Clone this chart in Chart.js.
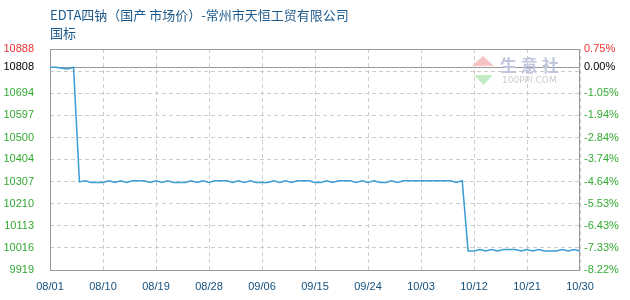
<!DOCTYPE html>
<html>
<head>
<meta charset="utf-8">
<script src="https://cdn.jsdelivr.net/npm/chart.js@4.4.0/dist/chart.umd.min.js"></script>
<style>
  html, body { margin: 0; padding: 0; background: #fff; }
</style>
</head>
<body>
<canvas id="priceChart" width="630" height="300"></canvas>
<script>
const chartTitle = ['EDTA四钠（国产 市场价）-常州市天恒工贸有限公司', '国标'];

const dates = [
    '08/01', '08/02', '08/03', '08/04', '08/05', '08/06', '08/07', '08/08', '08/09', '08/10',
    '08/11', '08/12', '08/13', '08/14', '08/15', '08/16', '08/17', '08/18', '08/19', '08/20',
    '08/21', '08/22', '08/23', '08/24', '08/25', '08/26', '08/27', '08/28', '08/29', '08/30', '08/31',
    '09/01', '09/02', '09/03', '09/04', '09/05', '09/06', '09/07', '09/08', '09/09', '09/10',
    '09/11', '09/12', '09/13', '09/14', '09/15', '09/16', '09/17', '09/18', '09/19', '09/20',
    '09/21', '09/22', '09/23', '09/24', '09/25', '09/26', '09/27', '09/28', '09/29', '09/30',
    '10/01', '10/02', '10/03', '10/04', '10/05', '10/06', '10/07', '10/08', '10/09', '10/10',
    '10/11', '10/12', '10/13', '10/14', '10/15', '10/16', '10/17', '10/18', '10/19', '10/20',
    '10/21', '10/22', '10/23', '10/24', '10/25', '10/26', '10/27', '10/28', '10/29', '10/30'
];

const prices = [
    10808, 10808, 10804, 10800, 10808,
    10305, 10310, 10303, 10303, 10303,
    10310, 10303, 10310, 10303, 10310,
    10310, 10310, 10303, 10310, 10303,
    10310, 10303, 10303, 10303, 10310,
    10303, 10310, 10303, 10310, 10310,
    10310, 10303, 10310, 10303, 10310,
    10303, 10303, 10303, 10310, 10303,
    10310, 10303, 10310, 10310, 10310,
    10303, 10303, 10310, 10303, 10310,
    10310, 10310, 10303, 10310, 10303,
    10310, 10303, 10303, 10310, 10303,
    10310, 10310, 10310, 10310, 10310,
    10310, 10310, 10310, 10310, 10303,
    10310, 10002, 10002, 10009, 10002,
    10009, 10002, 10009, 10009, 10009,
    10002, 10009, 10002, 10009, 10002,
    10002, 10002, 10009, 10002, 10009,
    10002
];

const basePrice = 10808; // reference level, 0.00%
const yMin = 9919;
const yMax = 10888;
const leftTicks = [9919, 10016, 10113, 10210, 10307, 10404, 10500, 10597, 10694, 10791, 10808, 10888];
const leftTickLabels = ['9919', '10016', '10113', '10210', '10307', '10404', '10500', '10597', '10694', '', '10808', '10888'];
const rightTickLabels = ['-8.22%', '-7.33%', '-6.43%', '-5.53%', '-4.64%', '-3.74%', '-2.84%', '-1.94%', '-1.05%', '', '0.00%', '0.75%'];

const tickFont = { family: 'Liberation Sans', size: 11 };

function tickColor(value) {
    if (value === yMax) return '#ee3333';
    if (value === basePrice) return '#000000';
    return '#33aa33';
}

function setTicks(scale) {
    scale.ticks = leftTicks.map(v => ({ value: v }));
}

const titlePlugin = {
    id: 'titleText',
    afterDraw(chart) {
        const { ctx } = chart;
        ctx.save();
        ctx.font = '13px "Noto Sans CJK SC"';
        ctx.fillStyle = '#1c5a8c';
        ctx.textAlign = 'left';
        ctx.textBaseline = 'middle';
        ctx.fillText(chartTitle[0], 50, 15);
        ctx.fillText(chartTitle[1], 50, 33);
        ctx.restore();
    }
};

// grey box round the plot
const framePlugin = {
    id: 'frame',
    beforeDatasetsDraw(chart) {
        const { ctx, chartArea: a } = chart;
        ctx.save();
        ctx.strokeStyle = '#999999';
        ctx.lineWidth = 1;
        ctx.strokeRect(Math.round(a.left) + 0.5, Math.round(a.top) + 0.5,
            Math.round(a.right - a.left) - 1, Math.round(a.bottom - a.top));
        ctx.restore();
    }
};

const watermarkPlugin = {
    id: 'watermark',
    beforeDatasetsDraw(chart) {
        const { ctx } = chart;
        ctx.save();
        ctx.fillStyle = '#f6c2c2';
        ctx.beginPath();
        ctx.moveTo(483, 56);
        ctx.lineTo(494, 66);
        ctx.lineTo(472, 66);
        ctx.closePath();
        ctx.fill();
        ctx.fillStyle = '#c4ecc4';
        ctx.beginPath();
        ctx.moveTo(474, 75);
        ctx.lineTo(493, 75);
        ctx.lineTo(483.5, 85);
        ctx.closePath();
        ctx.fill();
        ctx.fillStyle = '#c0c6dc';
        ctx.font = 'bold 17px "Noto Sans CJK SC"';
        ctx.textBaseline = 'middle';
        ctx.fillText('生 意 社', 500, 66);
        ctx.fillStyle = '#cccccc';
        ctx.font = '9px "DejaVu Sans"';
        ctx.fillText('100PPI.COM', 502, 81);
        ctx.restore();
    }
};

const ctx = document.getElementById('priceChart').getContext('2d');
new Chart(ctx, {
    type: 'line',
    data: {
        labels: dates,
        datasets: [{
            label: 'EDTA四钠',
            data: prices,
            borderColor: '#3d9bd6',
            borderWidth: 1.5,
            pointRadius: 0,
            tension: 0,
            fill: false
        }]
    },
    options: {
        responsive: false,
        animation: false,
        layout: {
            autoPadding: false,
            padding: { left: 3, right: 10, top: 49, bottom: 0 }
        },
        plugins: {
            legend: { display: false },
            tooltip: { enabled: false }
        },
        scales: {
            x: {
                afterFit: s => { s.height = 30; },
                grid: {
                    color: c => (c.index % 9 === 0 ? '#cccccc' : 'transparent'),
                    drawTicks: false
                },
                border: { display: false, dash: [4, 3] },
                ticks: {
                    autoSkip: false,
                    maxRotation: 0,
                    padding: 10,
                    color: '#14507e',
                    font: tickFont,
                    callback: (v, i) => (i % 9 === 0 ? dates[i] : '')
                }
            },
            y: {
                position: 'left',
                min: yMin,
                max: yMax,
                afterBuildTicks: setTicks,
                afterFit: s => { s.width = 47; },
                grid: {
                    color: c => (c.tick && c.tick.value === basePrice ? '#999999' : '#cccccc'),
                    drawTicks: false
                },
                border: {
                    display: false,
                    dash: c => (c.tick && c.tick.value === basePrice ? [] : [4, 3])
                },
                ticks: {
                    padding: 16,
                    font: tickFont,
                    color: c => tickColor(c.tick.value),
                    callback: (v, i) => leftTickLabels[i]
                }
            },
            y1: {
                position: 'right',
                min: yMin,
                max: yMax,
                afterBuildTicks: setTicks,
                afterFit: s => { s.width = 40; },
                grid: { display: false, drawTicks: false },
                border: { display: false },
                ticks: {
                    padding: 4,
                    font: tickFont,
                    color: c => tickColor(c.tick.value),
                    callback: (v, i) => rightTickLabels[i]
                }
            }
        }
    },
    plugins: [framePlugin, watermarkPlugin, titlePlugin]
});
</script>
</body>
</html>
